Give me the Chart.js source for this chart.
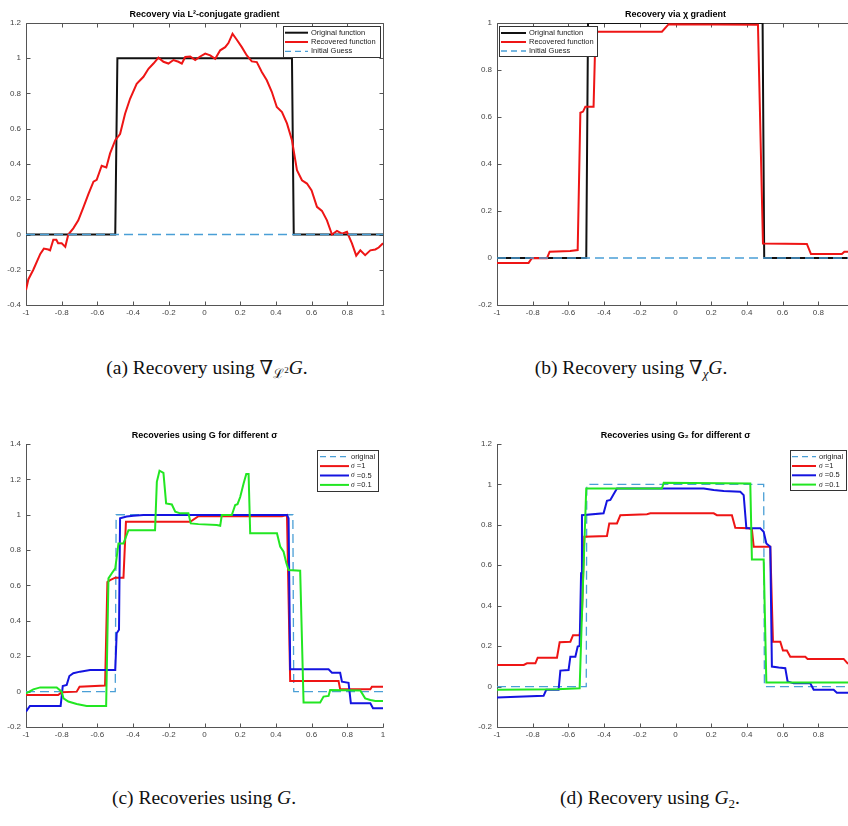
<!DOCTYPE html>
<html><head><meta charset="utf-8">
<script src="https://cdn.jsdelivr.net/npm/chart.js@4/dist/chart.umd.min.js"></script>
<style>
html,body{margin:0;padding:0;width:848px;height:826px;overflow:hidden;background:#fff;position:relative;}
canvas{position:absolute;}
.cap{position:absolute;font-family:"Liberation Serif","DejaVu Serif",serif;font-size:19.5px;line-height:19.5px;color:#111;white-space:nowrap;transform:translateX(-50%);}
.cap sub{font-size:13px;vertical-align:-4px;line-height:0;}
.cap sup{font-size:9px;vertical-align:5px;line-height:0;}
</style></head><body>
<canvas id="ca" width="400" height="325" style="left:0;top:0"></canvas>
<canvas id="cb" width="440" height="325" style="left:424px;top:0"></canvas>
<canvas id="cc" width="400" height="326" style="left:0;top:421px"></canvas>
<canvas id="cd" width="440" height="326" style="left:424px;top:421px"></canvas>
<div class="cap" style="left:207px;top:358px">(a) Recovery using ∇<sub>ℒ<sup>2</sup></sub><i>G</i>.</div>
<div class="cap" style="left:631px;top:358px">(b) Recovery using ∇<sub><i>χ</i></sub><i>G</i>.</div>
<div class="cap" style="left:204px;top:788px">(c) Recoveries using <i>G</i>.</div>
<div class="cap" style="left:650px;top:788px">(d) Recovery using <i>G</i><sub>2</sub>.</div>
<script>
// ---------- tick values ----------
const xTickValues = [-1,-0.8,-0.6,-0.4,-0.2,0,0.2,0.4,0.6,0.8,1];
const yTicksA = [-0.4,-0.2,0,0.2,0.4,0.6,0.8,1,1.2];
const yTicksB = [-0.2,0,0.2,0.4,0.6,0.8,1];
const yTicksC = [-0.2,0,0.2,0.4,0.6,0.8,1,1.2,1.4];
const yTicksD = [-0.2,0,0.2,0.4,0.6,0.8,1,1.2];

// ---------- titles / labels ----------
const titles = ['Recovery via L²-conjugate gradient','Recovery via χ gradient','Recoveries using G for different σ','Recoveries using G₂ for different σ'];
const labelsAB = ['Original function','Recovered function','Initial Guess'];
const labelsCD = ['original','σ =1','σ =0.5','σ =0.1'];

// ---------- (a) ----------
const aOriginal = [[-1,0],[-0.5,0],[-0.488,1],[0.49,1],[0.5,0],[1,0]];
const aRecovered = [[-1,-0.315],[-0.987,-0.255],[-0.959,-0.2],[-0.92,-0.11],[-0.9,-0.08],[-0.875,-0.085],[-0.865,-0.09],[-0.847,-0.03],[-0.83,-0.03],[-0.82,-0.05],[-0.8,-0.05],[-0.78,-0.07],[-0.763,0],[-0.735,0.035],[-0.707,0.08],[-0.678,0.155],[-0.65,0.23],[-0.622,0.3],[-0.604,0.31],[-0.576,0.39],[-0.55,0.38],[-0.529,0.46],[-0.5,0.535],[-0.473,0.57],[-0.445,0.685],[-0.417,0.77],[-0.38,0.855],[-0.342,0.895],[-0.314,0.94],[-0.286,0.97],[-0.258,1.003],[-0.23,0.98],[-0.202,0.97],[-0.174,0.99],[-0.146,0.98],[-0.127,0.97],[-0.108,1.007],[-0.08,1.01],[-0.052,0.99],[-0.024,1.01],[0.004,1.026],[0.032,1.016],[0.06,0.997],[0.088,1.045],[0.116,1.063],[0.134,1.086],[0.157,1.139],[0.181,1.105],[0.209,1.063],[0.237,1.016],[0.265,0.982],[0.293,0.978],[0.321,0.922],[0.349,0.875],[0.377,0.81],[0.405,0.723],[0.434,0.695],[0.462,0.63],[0.49,0.535],[0.518,0.365],[0.546,0.308],[0.574,0.289],[0.6,0.25],[0.63,0.157],[0.658,0.134],[0.686,0.08],[0.714,0],[0.742,0.02],[0.77,0.005],[0.798,0.015],[0.826,-0.05],[0.85,-0.12],[0.873,-0.09],[0.9,-0.117],[0.929,-0.09],[0.957,-0.085],[0.976,-0.074],[1,-0.05]];
const initialGuess = [[-1,0],[1,0]];

// ---------- (b) ----------
const bOriginal = [[-1,0],[-0.5,0],[-0.49,1],[0.488,1],[0.497,0],[1,0]];
const bRecovered = [[-1,-0.021],[-0.823,-0.021],[-0.804,0],[-0.72,-0.001],[-0.705,0.027],[-0.59,0.03],[-0.548,0.034],[-0.533,0.618],[-0.518,0.623],[-0.505,0.644],[-0.459,0.644],[-0.448,0.963],[-0.076,0.963],[-0.038,0.995],[0.462,0.993],[0.49,0.062],[0.736,0.06],[0.759,0.017],[0.932,0.017],[0.946,0.027],[1,0.027]];

// ---------- (c) ----------
const cOriginal = [[-1,0],[-0.5,0],[-0.495,1],[0.495,1],[0.5,0],[1,0]];
const cSigma1 = [[-1,-0.019],[-0.82,-0.019],[-0.8,-0.004],[-0.716,0],[-0.7,0.028],[-0.557,0.034],[-0.544,0.62],[-0.529,0.63],[-0.5,0.644],[-0.454,0.644],[-0.44,0.96],[-0.08,0.96],[-0.034,0.992],[0.434,0.992],[0.462,0.998],[0.48,0.06],[0.751,0.06],[0.76,0.013],[0.929,0.013],[0.938,0.028],[1,0.028]];
const cSigma05 = [[-1,-0.113],[-0.978,-0.081],[-0.806,-0.081],[-0.794,0.032],[-0.772,0.038],[-0.757,0.088],[-0.735,0.104],[-0.697,0.113],[-0.641,0.122],[-0.5,0.122],[-0.492,0.33],[-0.479,0.35],[-0.473,0.98],[-0.436,0.99],[-0.398,0.995],[-0.342,0.998],[0.462,0.998],[0.471,0.98],[0.48,0.126],[0.695,0.126],[0.714,0.107],[0.76,0.107],[0.77,0.056],[0.807,0.05],[0.82,-0.066],[0.929,-0.066],[0.944,-0.094],[1,-0.094]];
const cSigma01 = [[-1,-0.01],[-0.959,0.013],[-0.92,0.024],[-0.828,0.024],[-0.8,0],[-0.79,-0.038],[-0.763,-0.056],[-0.716,-0.07],[-0.66,-0.081],[-0.551,-0.081],[-0.538,0.64],[-0.52,0.668],[-0.5,0.697],[-0.482,0.838],[-0.454,0.838],[-0.426,0.913],[-0.277,0.913],[-0.267,1.186],[-0.252,1.249],[-0.23,1.237],[-0.215,1.064],[-0.183,1.058],[-0.164,1.017],[-0.136,1.008],[-0.09,1.008],[-0.077,0.951],[-0.034,0.947],[0.069,0.942],[0.088,0.938],[0.097,0.998],[0.153,0.998],[0.172,1.055],[0.185,1.06],[0.2,1.1],[0.219,1.177],[0.234,1.23],[0.247,1.23],[0.256,0.895],[0.406,0.895],[0.424,0.82],[0.443,0.791],[0.458,0.729],[0.471,0.687],[0.536,0.684],[0.555,-0.062],[0.648,-0.062],[0.667,-0.028],[0.695,-0.024],[0.704,0.009],[0.873,0.006],[0.9,-0.038],[0.929,-0.047],[0.957,-0.053],[1,-0.053]];

// ---------- (d) ----------
const dOriginal = [[-1,0],[-0.5,0],[-0.497,1],[0.494,1],[0.498,0],[1,0]];
const dSigma1 = [[-1,0.107],[-0.85,0.107],[-0.832,0.115],[-0.785,0.115],[-0.772,0.143],[-0.664,0.143],[-0.649,0.219],[-0.589,0.222],[-0.574,0.254],[-0.537,0.254],[-0.524,0.362],[-0.511,0.741],[-0.384,0.745],[-0.371,0.807],[-0.328,0.807],[-0.309,0.848],[-0.16,0.853],[-0.141,0.857],[0.214,0.857],[0.232,0.848],[0.316,0.848],[0.335,0.786],[0.41,0.783],[0.428,0.778],[0.438,0.692],[0.531,0.692],[0.546,0.222],[0.587,0.222],[0.602,0.178],[0.624,0.178],[0.643,0.148],[0.727,0.148],[0.74,0.137],[0.942,0.137],[0.964,0.115],[1,0.11]];
const dSigma05 = [[-1,-0.054],[-0.739,-0.046],[-0.724,-0.016],[-0.655,-0.016],[-0.645,0.079],[-0.599,0.082],[-0.589,0.148],[-0.561,0.148],[-0.548,0.198],[-0.537,0.201],[-0.529,0.56],[-0.524,0.848],[-0.403,0.857],[-0.393,0.89],[-0.384,0.919],[-0.365,0.923],[-0.35,0.947],[-0.328,0.98],[0.158,0.98],[0.214,0.972],[0.27,0.967],[0.363,0.964],[0.382,0.947],[0.397,0.783],[0.475,0.783],[0.494,0.766],[0.509,0.708],[0.531,0.692],[0.54,0.099],[0.578,0.094],[0.615,0.091],[0.628,0.025],[0.662,0.016],[0.755,0.016],[0.774,-0.016],[0.886,-0.016],[0.904,-0.03],[1,-0.03]];
const dSigma01 = [[-1,-0.016],[-0.664,-0.013],[-0.537,-0.008],[-0.524,0.362],[-0.5,0.98],[-0.076,0.98],[-0.066,1.008],[0.419,1.005],[0.428,0.629],[0.494,0.629],[0.509,0.02],[1,0.02]];

// ---------- styles ----------
const BLACK='#111111', RED='#ee1515', BLUE='#1414e0', GREEN='#22e622', DASH='#4a9fd6';
const SANS='"Liberation Sans", Arial, Helvetica, sans-serif';

const pts = arr => arr.map(([x,y]) => ({x, y}));
const ds = (label, arr, color, width, order, dash) => ({
  label, data: pts(arr), borderColor: color, borderWidth: width, order,
  borderDash: dash || [], pointRadius: 0, fill: false, tension: 0
});
const fmt = v => String(Math.round(v*10)/10);

const axesPlugin = {
  id: 'mbox',
  beforeDatasetsDraw(chart, args, o) {
    const {ctx, chartArea: a, scales: {x, y}} = chart;
    ctx.save();
    ctx.strokeStyle = '#555'; ctx.lineWidth = 1; ctx.setLineDash([]);
    ctx.beginPath();
    const L = Math.round(a.left)+0.5, B = Math.round(a.bottom)+0.5, T = Math.round(a.top)+0.5, R = Math.round(a.right)+0.5;
    ctx.moveTo(L, o.box ? T : T-0.5); ctx.lineTo(L, B); ctx.lineTo(R, B);
    if (o.box) { ctx.moveTo(L, T); ctx.lineTo(R, T); ctx.lineTo(R, B); }
    x.ticks.forEach(t => {
      const p = Math.round(x.getPixelForValue(t.value))+0.5;
      ctx.moveTo(p, B); ctx.lineTo(p, B-4);
      if (o.box) { ctx.moveTo(p, T); ctx.lineTo(p, T+4); }
    });
    y.ticks.forEach(t => {
      const p = Math.round(y.getPixelForValue(t.value))+0.5;
      ctx.moveTo(L, p); ctx.lineTo(L+4, p);
      if (o.box) { ctx.moveTo(R, p); ctx.lineTo(R-4, p); }
    });
    ctx.stroke();
    ctx.restore();
  }
};

const legendPlugin = {
  id: 'mlegend',
  afterDraw(chart, args, o) {
    if (!o.rect) return;
    const ctx = chart.ctx; const [bx,by,bw,bh] = o.rect;
    ctx.save();
    ctx.fillStyle = '#fff'; ctx.fillRect(bx, by, bw, bh);
    ctx.strokeStyle = '#333'; ctx.lineWidth = 1; ctx.setLineDash([]);
    ctx.strokeRect(bx+0.5, by+0.5, bw, bh);
    chart.data.datasets.forEach((d, i) => {
      const yy = by + o.first + i*o.step;
      ctx.beginPath();
      ctx.setLineDash(d.borderDash && d.borderDash.length ? [6,4] : []);
      ctx.strokeStyle = d.borderColor; ctx.lineWidth = d.borderWidth;
      ctx.moveTo(bx+o.l0, yy); ctx.lineTo(bx+o.l1, yy); ctx.stroke();
      ctx.setLineDash([]);
      ctx.fillStyle = '#222'; ctx.textBaseline = 'middle'; ctx.textAlign = 'left';
      let tx = bx + o.tx;
      let lab = d.label;
      if (lab.startsWith('σ')) {
        ctx.font = 'italic 7.5px "Liberation Serif", serif';
        ctx.fillText('σ', tx, yy);
        tx += ctx.measureText('σ').width;
        lab = lab.slice(1);
      }
      ctx.font = '7.5px ' + SANS;
      ctx.fillText(lab, tx, yy);
    });
    ctx.restore();
  }
};

function makeChart(id, c) {
  return new Chart(document.getElementById(id), {
    type: 'line',
    data: { datasets: c.datasets },
    options: {
      responsive: false, animation: false, devicePixelRatio: 1,
      layout: { padding: { left: 0, right: c.padR, top: 0, bottom: 0 } },
      plugins: {
        legend: { display: false }, tooltip: { enabled: false },
        title: { display: true, text: c.title, fullSize: false, color: '#000',
          font: { family: SANS, size: 9, weight: 'bold', lineHeight: 1.2 },
          padding: { top: 9, bottom: 3.2 } },
        mbox: { box: c.box },
        mlegend: c.legend
      },
      scales: {
        x: {
          type: 'linear', min: -1, max: 1,
          afterBuildTicks: s => { s.ticks = xTickValues.map(v => ({ value: v })); },
          afterFit: s => { s.height = 20; },
          grid: { display: false, drawTicks: false }, border: { display: false },
          ticks: { padding: 3, color: '#444', autoSkip: false, maxRotation: 0,
            font: { family: SANS, size: 8 }, callback: v => fmt(v) }
        },
        y: {
          type: 'linear', min: c.yTicks[0], max: c.yTicks[c.yTicks.length-1],
          afterBuildTicks: s => { s.ticks = c.yTicks.map(v => ({ value: v })); },
          afterFit: s => { s.width = c.yw; },
          grid: { display: false, drawTicks: false }, border: { display: false },
          ticks: { padding: 5, color: '#444', autoSkip: false,
            font: { family: SANS, size: 8 }, callback: v => fmt(v) }
        }
      }
    },
    plugins: [axesPlugin, legendPlugin]
  });
}

makeChart('ca', {
  title: titles[0], box: true, padR: 17, yw: 26, yTicks: yTicksA,
  legend: { rect: [283,26,97,31], first: 6.7, step: 9.3, l0: 2, l1: 25, tx: 28 },
  datasets: [
    ds(labelsAB[0], aOriginal, BLACK, 2, 3),
    ds(labelsAB[1], aRecovered, RED, 2, 2),
    ds(labelsAB[2], initialGuess, DASH, 1.3, 1, [9,5])
  ]
});
makeChart('cb', {
  title: titles[1], box: true, padR: 10, yw: 73, yTicks: yTicksB,
  legend: { rect: [75,26,98,30], first: 7, step: 9, l0: 2, l1: 27, tx: 30 },
  datasets: [
    ds(labelsAB[0], bOriginal, BLACK, 2, 3),
    ds(labelsAB[1], bRecovered, RED, 2, 2),
    ds(labelsAB[2], initialGuess, DASH, 1.3, 1, [9,5])
  ]
});
makeChart('cc', {
  title: titles[2], box: false, padR: 17, yw: 26, yTicks: yTicksC,
  legend: { rect: [317,29,61,41], first: 6.7, step: 9.4, l0: 3, l1: 32, tx: 34 },
  datasets: [
    ds(labelsCD[0], cOriginal, DASH, 1.3, 4, [9,5]),
    ds(labelsCD[1], cSigma1, RED, 2, 3),
    ds(labelsCD[2], cSigma05, BLUE, 2, 2),
    ds(labelsCD[3], cSigma01, GREEN, 2, 1)
  ]
});
makeChart('cd', {
  title: titles[3], box: false, padR: 10, yw: 73, yTicks: yTicksD,
  legend: { rect: [366,29,56,40], first: 6.7, step: 9.3, l0: 2, l1: 26, tx: 29 },
  datasets: [
    ds(labelsCD[0], dOriginal, DASH, 1.3, 4, [9,5]),
    ds(labelsCD[1], dSigma1, RED, 2, 3),
    ds(labelsCD[2], dSigma05, BLUE, 2, 2),
    ds(labelsCD[3], dSigma01, GREEN, 2, 1)
  ]
});
</script>
</body></html>
